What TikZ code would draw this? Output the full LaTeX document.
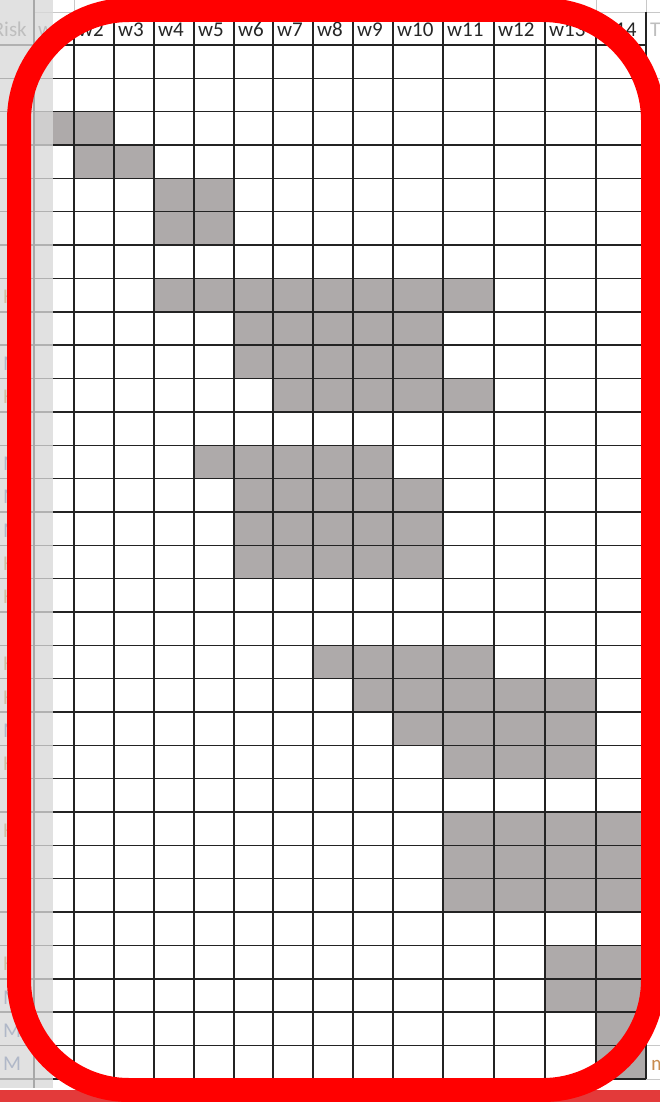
\documentclass[tikz,border=0pt]{standalone}
\usepackage{fontspec}
\setmainfont{Carlito}
\usetikzlibrary{positioning}
\definecolor{cellgrey}{RGB}{174,170,170}
\definecolor{panefill}{RGB}{217,217,217}
\definecolor{panedark}{RGB}{168,168,168}
\definecolor{lightline}{RGB}{200,200,200}
\definecolor{gridink}{RGB}{35,35,35}
\definecolor{labgrey}{RGB}{190,190,190}
\definecolor{labH}{RGB}{204,190,165}
\definecolor{labM}{RGB}{176,184,200}
\definecolor{tailink}{RGB}{200,140,80}
\definecolor{stripred}{RGB}{227,58,58}
\definecolor{framered}{RGB}{255,0,0}
\tikzset{
  head/.style={anchor=base west,inner sep=0pt,font=\fontsize{21}{21}\selectfont,text=black!85},
  ghost/.style={head,text=labgrey},
  riskH/.style={head,text=labH},
  riskM/.style={head,text=labM},
  gridline/.style={draw=gridink,line width=1.4pt},
}

\begin{document}
\begin{tikzpicture}[x=1pt,y=-1pt]
\useasboundingbox (0,0) rectangle (660,1102);
\fill[white] (0,0) rectangle (660,1102);
% column edges, w1 starts under the frozen pane
\foreach \k/\x in {0/35,1/74,2/114,3/154,4/194,5/234,6/273,7/313,8/353,9/393,10/443,11/494,12/545,13/596,14/646}
\coordinate (W\k) at (\x,12);
% row edges, R0 is the bottom of the header row
\foreach \r in {0,...,31}
\coordinate (R\r) at (0,{45+33.35*\r});
%
% busy weeks: row top / first edge / last edge
\foreach \r/\a/\b [evaluate=\r as \s using int(\r+1)] in {2/0/2,3/1/3,4/3/5,5/3/5,7/3/11,8/5/10,9/5/10,10/6/11,
  12/4/9,13/5/10,14/5/10,15/5/10,18/7/11,19/8/13,20/9/13,21/10/13,23/10/14,24/10/14,25/10/14,
  27/12/14,28/12/14,29/13/14,30/13/14}
\fill[cellgrey] (W\a |- R\r) rectangle (W\b |- R\s);
%
% grid
\draw[lightline] (W0) -- (660,12);
\foreach \r in {0,...,31}
\draw[gridline] (R\r) -- (W14 |- R\r);
\foreach \r in {1,...,31}
\draw[lightline] (W14 |- R\r) -- (660,0 |- R\r);
\foreach \k in {1,...,14}{
\draw[gridline] (W\k) -- (W\k |- R31);
\draw[lightline] (W\k) -- ++(0,-12);
}
%
% frozen pane on the left
\fill[panefill,opacity=.78] (0,0) rectangle (53,1088);
\draw[panedark,line width=2.5pt] (34,0) -- (34,1088);
%
% header
\path (0,37) node[ghost,anchor=base east,xshift=27pt] (hRisk) {Risk};
\path (W0 |- 0,37) node[ghost,xshift=3pt] (h1) {w1};
\foreach \k [evaluate=\k as \j using int(\k-1)] in {2,...,14}
\path (W\j |- 0,37) node[head,xshift=4pt] (h\k) {w\k};
\path (W14 |- 0,37) node[ghost,xshift=4pt] (hT) {T};
%
% risk column (mostly under the frame)
\foreach \r/\t in {8/H,10/M,11/H,13/M,14/M,15/M,16/H,17/H,19/H,20/H,21/M,22/H,24/H,28/H,29/M,30/M,31/M}
\path (R\r) node[risk\t,xshift=3pt,yshift=8pt] (risk\r) {\t};
\path (W14 |- R31) node[head,text=tailink,xshift=5pt,yshift=8pt] (tail) {m};
%
% red strip and frame
\fill[stripred] (0,1090) rectangle (660,1102);
\draw[framered,line width=24pt,rounded corners=110pt] (19,10) rectangle (653,1090);
\end{tikzpicture}
\end{document}
